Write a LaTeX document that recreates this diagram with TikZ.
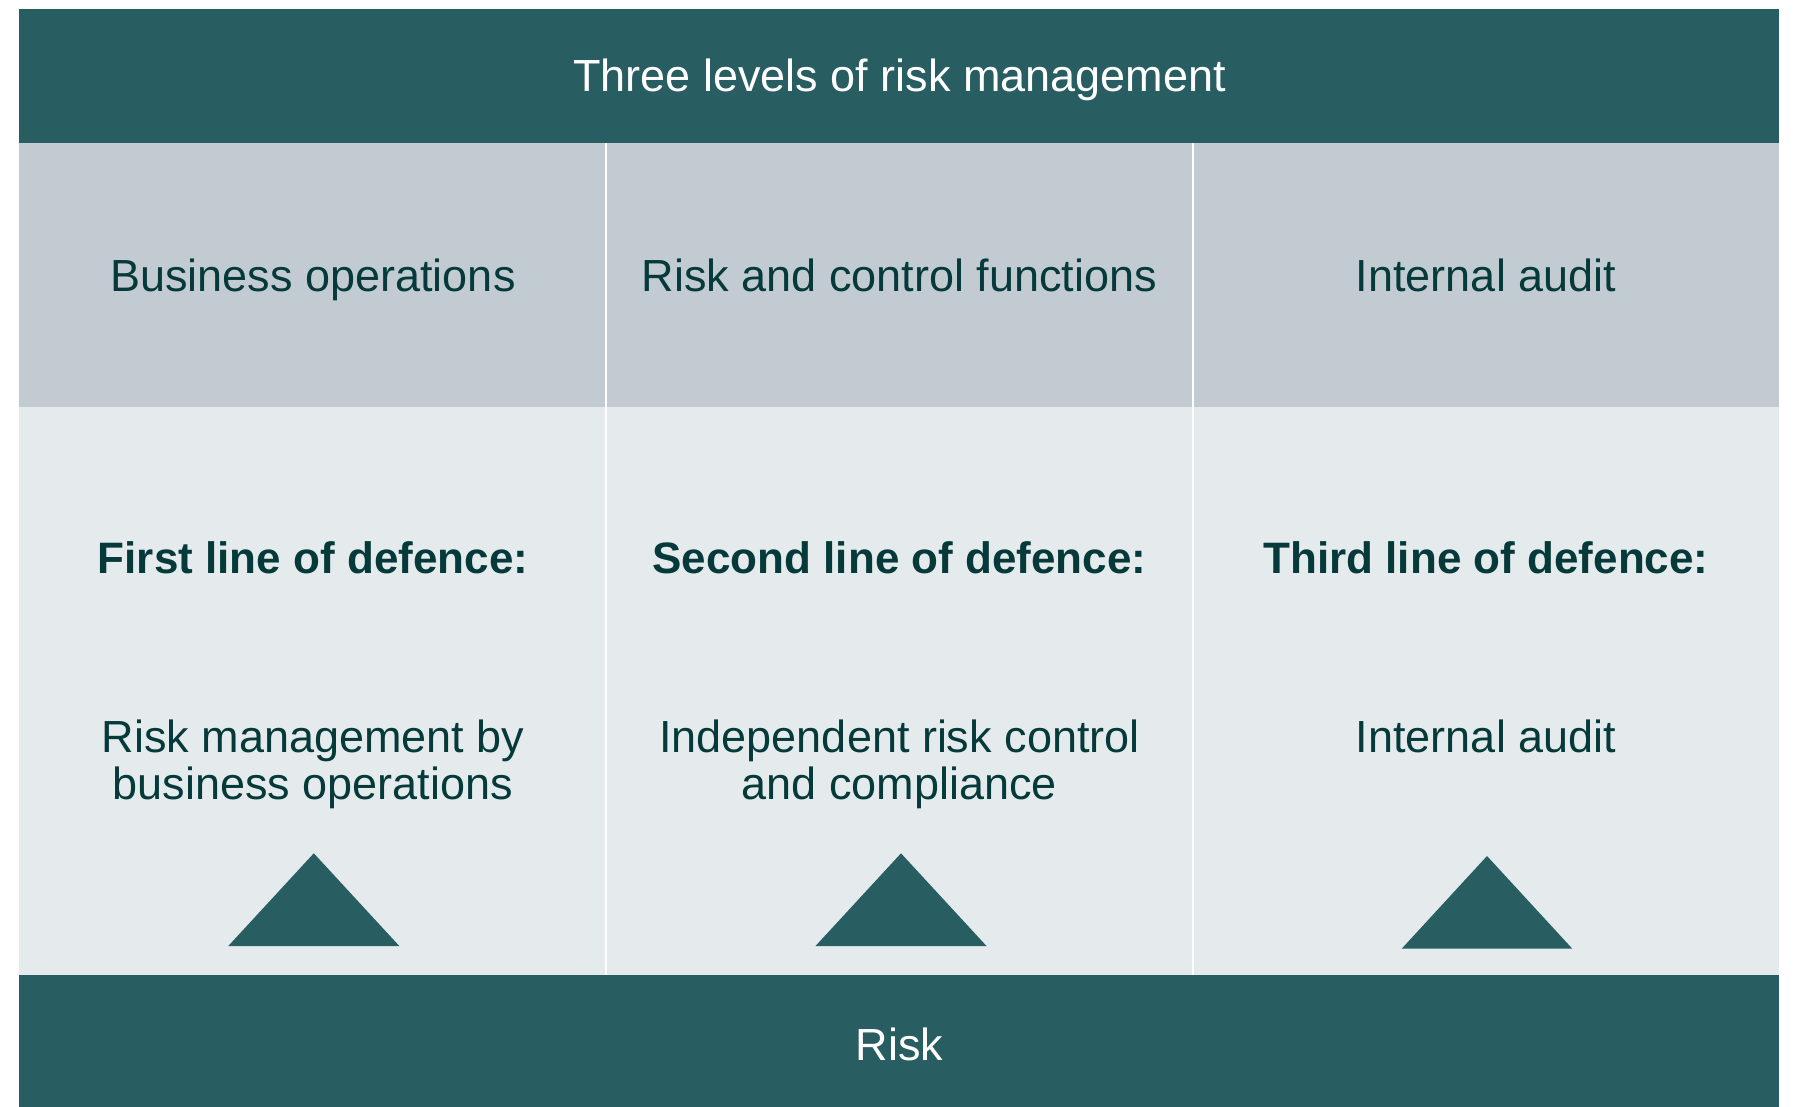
\documentclass[tikz,border=0pt]{standalone}
\usepackage{fontspec}
\setmainfont{Liberation Sans}
\definecolor{hdrteal}{RGB}{40,93,97}
\definecolor{rowgray}{RGB}{195,203,210}
\definecolor{rowlight}{RGB}{229,235,236}
\definecolor{inktext}{RGB}{6,58,58}
\tikzset{
  cell/.style={rectangle, inner sep=0pt, outer sep=0pt, draw=none, anchor=north west},
  txt/.style={inner sep=0pt, outer sep=0pt, anchor=base, font=\fontsize{45}{47}\selectfont, text=inktext},
  wtxt/.style={txt, text=white},
  btxt/.style={txt, font=\fontsize{44}{47}\selectfont\bfseries},
  desc/.style={txt, align=center},
  tri/.style={fill=hdrteal},
  divider/.style={draw=white, line width=2.5pt}
}
\begin{document}
\begin{tikzpicture}[x=1pt,y=-1pt]
\useasboundingbox (0,0) rectangle (1794,1107);
\fill[white] (0,0) rectangle (1794,1107);
% bands and cells
\node[cell, fill=hdrteal, minimum width=1760pt, minimum height=134pt] (head) at (19.3,9) {};
\node[cell, fill=rowgray, minimum width=1760pt, minimum height=264.5pt] (grayrow) at (19.3,142.7) {};
\node[cell, fill=rowlight, minimum width=1760pt, minimum height=568.5pt] (lightrow) at (19.3,407) {};
\node[cell, fill=hdrteal, minimum width=1760pt, minimum height=132pt] (foot) at (19.3,975.3) {};
% dividers
\coordinate (d1t) at (606,142.7); \coordinate (d1b) at (606,975.3);
\coordinate (d2t) at (1193,142.7); \coordinate (d2b) at (1193,975.3);
\draw[divider] (d1t) -- (d1b);
\draw[divider] (d2t) -- (d2b);
% texts
\node[wtxt] (title) at (899.5,91.7) {Three levels of risk management};
\node[txt] (c1) at (313,291.7) {Business operations};
\node[txt] (c2) at (899.5,291.7) {Risk and control functions};
\node[txt] (c3) at (1486,291.7) {Internal audit};
\node[btxt] (l1) at (313,573.3) {First line of defence:};
\node[btxt] (l2) at (899.5,573.3) {Second line of defence:};
\node[btxt] (l3) at (1486,573.3) {Third line of defence:};
\node[desc] (r1) at (313,799.3) {Risk management by\\business operations};
\node[desc] (r2) at (899.5,799.3) {Independent risk control\\and compliance};
\node[desc] (r3) at (1486,752.3) {Internal audit};
\node[wtxt] (risk) at (899.5,1060) {Risk};
% triangles
\fill[tri] (228.3,946) -- (313.8,853.3) -- (399.3,946) -- cycle;
\fill[tri] (815.5,946) -- (901,853.3) -- (986.5,946) -- cycle;
\fill[tri] (1401.7,948.7) -- (1487,856) -- (1572.3,948.7) -- cycle;
\end{tikzpicture}
\end{document}
